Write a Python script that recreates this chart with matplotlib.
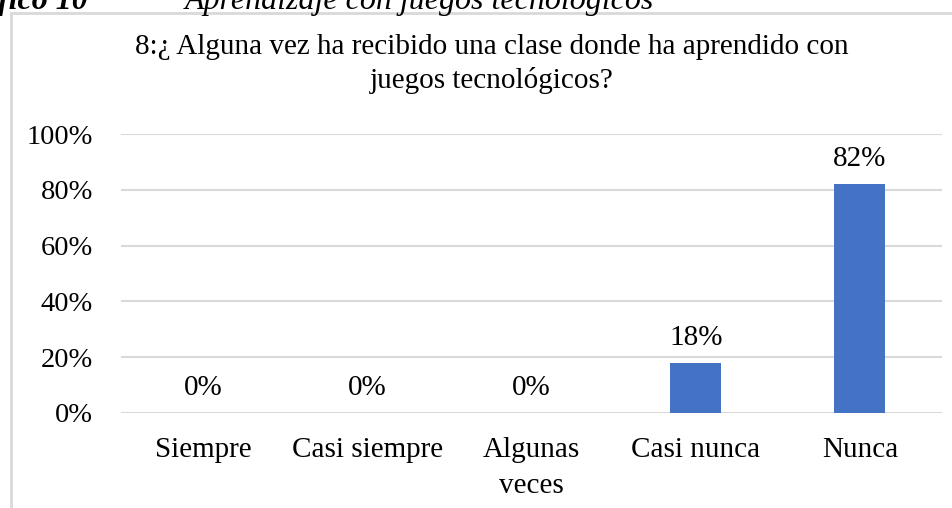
import matplotlib.pyplot as plt
from matplotlib.patches import Rectangle
from matplotlib.ticker import PercentFormatter

# data
categories = ["Siempre", "Casi siempre", "Algunas\nveces", "Casi nunca", "Nunca"]
values = [0.0, 0.0, 0.0, 0.18, 0.82]
labels = ["0%", "0%", "0%", "18%", "82%"]
y_ticks = [0, 0.2, 0.4, 0.6, 0.8, 1.0]

title = "8:¿ Alguna vez ha recibido una clase donde ha aprendido con\njuegos tecnológicos?"

plt.rcParams['font.family'] = ['Liberation Serif', 'DejaVu Serif']

fig = plt.figure(figsize=(9.53, 5.08), dpi=100)
W, H = 953, 508

# chart frame (runs off the right and bottom edge like the cropped page)
fig.patches.append(Rectangle((11 / W, -0.1), 1.2, (H - 13) / H + 0.1,
                             transform=fig.transFigure, fill=False,
                             edgecolor='#d9d9d9', lw=2))

# cut-off document caption at the top
fig.text(-2 / W, 1 - 9 / H, "fico 10", fontsize=23, fontweight='bold',
         fontstyle='italic', ha='left', va='baseline')
fig.text(185 / W, 1 - 9 / H, "Aprendizaje con juegos tecnológicos", fontsize=23,
         fontstyle='italic', ha='left', va='baseline')

ax = fig.add_axes([121 / W, 95 / H, 821 / W, 279 / H])
x = range(len(categories))
ax.bar(x, values, width=0.31, color='#4472c4', zorder=3)

ax.set_xlim(-0.5, len(categories) - 0.5)
ax.set_ylim(0, 1)
ax.set_yticks(y_ticks)
ax.yaxis.set_major_formatter(PercentFormatter(1.0, decimals=0))
ax.set_xticks(list(x))
ax.set_xticklabels(categories, fontsize=21, linespacing=1.5)
ax.tick_params(axis='y', labelsize=20.5, length=0, pad=20)
ax.tick_params(axis='x', length=0, pad=17)
ax.grid(axis='y', color='#d9d9d9', lw=1.5, zorder=0)
for s in ax.spines.values():
    s.set_visible(False)

for xi, v, lab in zip(x, values, labels):
    ax.annotate(lab, (xi, v), xytext=(0, 18), textcoords='offset points',
                ha='center', va='center', fontsize=21)

fig.text(492 / W, 1 - 64 / H, title, ha='center', va='center', fontsize=21,
         linespacing=1.3)

fig.savefig("out.png", dpi=100)
